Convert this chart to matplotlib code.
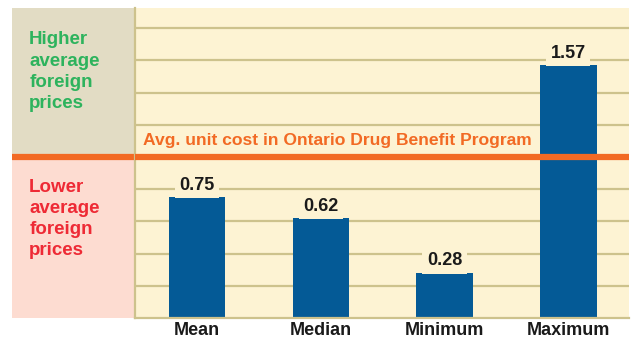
import matplotlib.pyplot as plt
import numpy as np

plt.rcParams['font.family'] = ['Liberation Sans Narrow', 'Liberation Sans', 'DejaVu Sans']

categories = ['Mean', 'Median', 'Minimum', 'Maximum']
values = [0.75, 0.62, 0.28, 1.57]
value_labels = ['0.75', '0.62', '0.28', '1.57']
grid_levels = [0.2, 0.4, 0.6, 0.8, 1.2, 1.4, 1.6, 1.8]
reference_level = 1.0
reference_label = 'Avg. unit cost in Ontario Drug Benefit Program'
upper_label = 'Higher\naverage\nforeign\nprices'
lower_label = 'Lower\naverage\nforeign\nprices'

cream = '#fdf3d3'
grid_col = '#cdc28c'
bar_col = '#045a96'
orange = '#f26a24'
green = '#2db35d'
red = '#ee2a35'
tan = '#e2dcc4'
pink = '#fddcd1'

W, H = 633, 345
fig = plt.figure(figsize=(W / 100, H / 100), dpi=100)

y_top = 1.925
bot_px, top_px = 318, 8

# left legend panel
axl = fig.add_axes([12 / W, (H - bot_px) / H, (135 - 12) / W, (bot_px - top_px) / H])
axl.set_xlim(0, 1)
axl.set_ylim(0, y_top)
axl.axhspan(reference_level, y_top, color=tan, lw=0)
axl.axhspan(0, reference_level, color=pink, lw=0)
axl.axhline(reference_level, color=orange, lw=4.5, zorder=3)
axl.text(0.14, 1.78, upper_label, color=green, fontsize=13.5, fontweight='bold',
         va='top', ha='left', linespacing=1.32)
axl.text(0.14, 0.865, lower_label, color=red, fontsize=13.5, fontweight='bold',
         va='top', ha='left', linespacing=1.32)
axl.axis('off')

# main plot
ax = fig.add_axes([135 / W, (H - bot_px) / H, (629 - 135) / W, (bot_px - top_px) / H])
ax.set_facecolor(cream)
x = np.arange(len(categories))
ax.set_xlim(-0.502, 3.49)
ax.set_ylim(0, y_top)
for g in grid_levels:
    ax.axhline(g, color=grid_col, lw=1.6, zorder=1)
ax.axhline(reference_level, color=orange, lw=4.5, zorder=3)
ax.bar(x, values, width=0.455, color=bar_col, zorder=2)
for xi, v, lab in zip(x, values, value_labels):
    ax.text(xi, v + 0.075, lab, ha='center', va='center', fontsize=13,
            fontweight='bold', color='#1a1a1a', zorder=4,
            bbox=dict(boxstyle='square,pad=0.25', fc=cream, ec='none'))
ax.text(-0.44, 1.105, reference_label, color=orange, fontsize=12.6,
        fontweight='bold', ha='left', va='center', zorder=4)

ax.set_xticks(x)
ax.set_xticklabels(categories, fontsize=13, fontweight='bold', color='#1a1a1a')
ax.tick_params(axis='x', length=0, pad=3)
ax.set_yticks([])
for s in ['top', 'right']:
    ax.spines[s].set_visible(False)
ax.spines['left'].set_color(grid_col)
ax.spines['left'].set_linewidth(1.6)
ax.spines['bottom'].set_color(grid_col)
ax.spines['bottom'].set_linewidth(1.6)

fig.savefig('out.png', dpi=100)
